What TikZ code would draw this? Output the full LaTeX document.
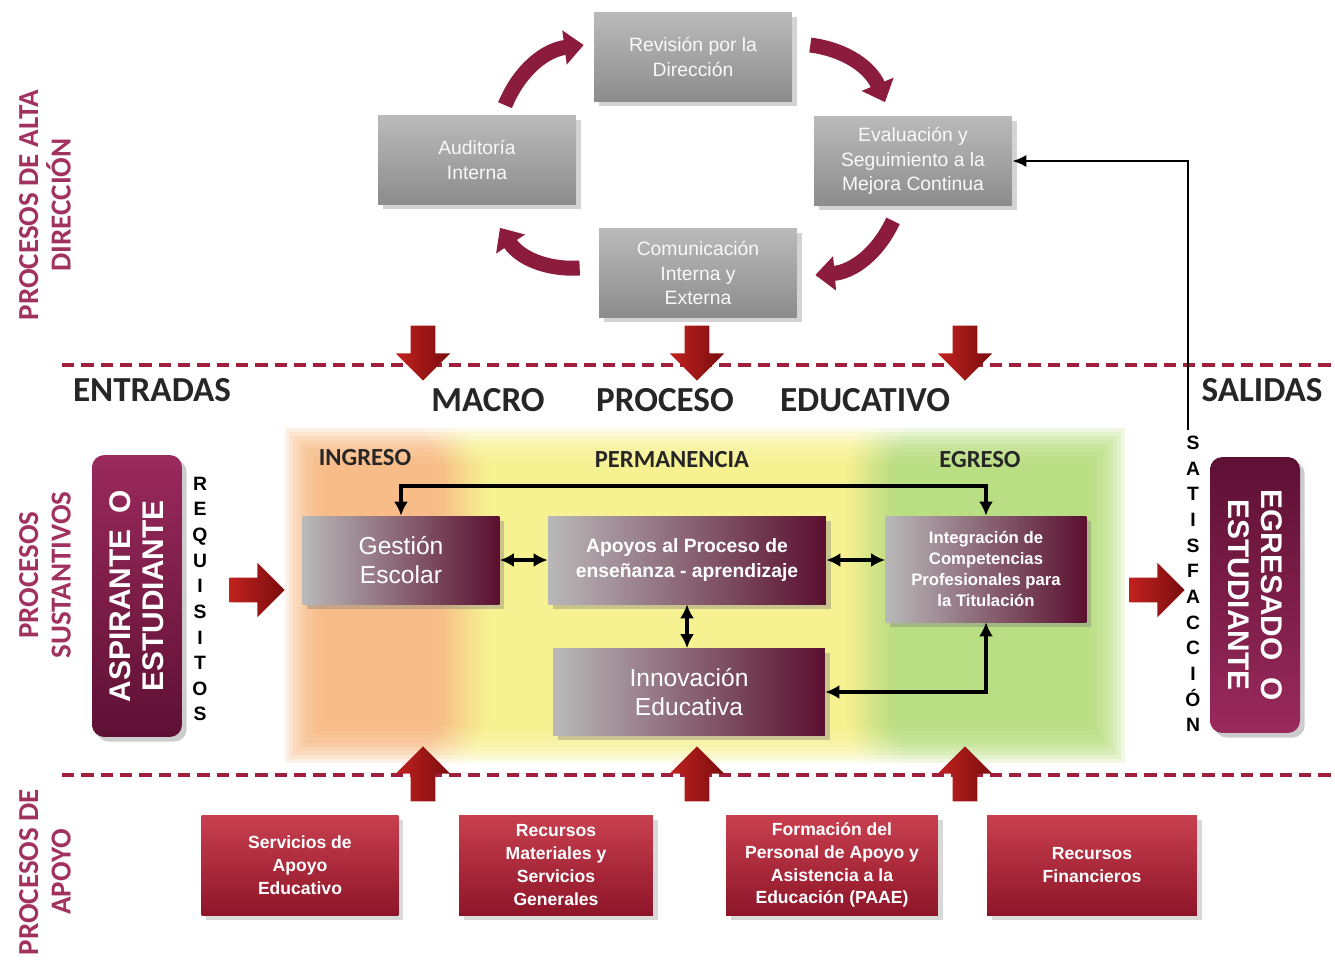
\documentclass[tikz,border=0pt]{standalone}
\usepackage{fontspec}
\setmainfont{Liberation Sans}
\newfontfamily\headfont{Carlito}
\usetikzlibrary{arrows.meta,shapes.arrows,shadows,positioning}

\definecolor{boxlight}{HTML}{BABABA}
\definecolor{boxdark}{HTML}{8C8C8C}
\definecolor{wine}{HTML}{5A0F2E}
\definecolor{cycred}{HTML}{8C1C3E}
\definecolor{sidelight}{HTML}{9A2A5C}
\definecolor{sidedark}{HTML}{5E1034}
\definecolor{blockred}{HTML}{C0221F}
\definecolor{blockdark}{HTML}{7A0C0E}
\definecolor{dashred}{HTML}{A01F3C}
\definecolor{labelpink}{HTML}{A1325F}
\definecolor{suplight}{HTML}{C8404F}
\definecolor{supdark}{HTML}{8E1529}
\definecolor{bgorange}{HTML}{F7B47A}
\definecolor{bgyellow}{HTML}{F5EF84}
\definecolor{bggreen}{HTML}{B2DA74}

\pgfdeclarehorizontalshading{bandshade}{100bp}{color(0bp)=(bgorange); color(33bp)=(bgorange);
  color(36bp)=(bgyellow); color(59bp)=(bgyellow); color(62bp)=(bggreen); color(100bp)=(bggreen)}

\begin{document}
\begin{tikzpicture}[x=0.02cm, y=-0.02cm,
  topbox/.style={top color=boxlight, bottom color=boxdark, minimum width=3.96cm, minimum height=1.78cm,
    align=center, text=white!95!gray, font=\fontsize{11}{14}\selectfont, drop shadow={opacity=0.35}},
  midbox/.style={left color=gray!55, right color=wine, text=white, align=center, drop shadow={opacity=0.4}},
  sidebox/.style={rounded corners=7pt, minimum height=1.8cm, align=center, text=white,
    font=\bfseries\fontsize{17}{19}\selectfont, drop shadow={opacity=0.4}},
  supbox/.style={top color=suplight, bottom color=supdark, minimum height=2cm, align=center, text=white,
    font=\bfseries\fontsize{10}{13}\selectfont, drop shadow={opacity=0.3}},
  heading/.style={font=\headfont\bfseries\fontsize{20}{22}\selectfont, text=black!85},
  phase/.style={font=\headfont\bfseries\fontsize{14}{16}\selectfont, text=black!85},
  sidelabel/.style={rotate=90, align=center, text=labelpink, font=\headfont\bfseries\fontsize{16.5}{18.5}\selectfont},
  letters/.style={align=center, font=\bfseries\fontsize{11}{14.6}\selectfont},
  cyc/.style={line width=8.5pt, draw=cycred, -{Triangle[length=11pt,width=19pt]}},
  redarrow/.style={single arrow, draw=none, inner xsep=0pt, inner ysep=0.24cm, minimum height=1.1cm,
    single arrow head extend=0.3cm, left color=blockred, right color=blockdark},
  link/.style={line width=2.2pt, {Latex[length=8pt,width=8pt]}-{Latex[length=8pt,width=8pt]}},
  dashline/.style={dashred, line width=2.2pt, dash pattern=on 7pt off 4pt}
]
\useasboundingbox (0,0) rectangle (1335,964);

% coloured band behind the macro process
\foreach \i in {0,...,9}
  \shade[shading=bandshade, fill opacity=0.2] (285+\i*4,428+\i*4) rectangle (1125-\i*4,762-\i*4);

% section separators
\draw[dashline] (62,365) -- (1333,365);
\draw[dashline] (62,775) -- (1333,775);

% top management cycle
\node[topbox] (rev) at (693,57) {Revisión por la\\Dirección};
\node[topbox] (aud) at (477,160) {Auditoría\\Interna};
\node[topbox] (eval) at (913,161) {Evaluación y\\Seguimiento a la\\Mejora Continua};
\node[topbox] (com) at (698,273) {Comunicación\\Interna y\\Externa};

\draw[cyc] ([xshift=0.56cm,yshift=0.2cm]aud.north) to[bend left=30] ([xshift=-0.2cm,yshift=0.24cm]rev.west);
\draw[cyc] ([xshift=0.36cm,yshift=0.24cm]rev.east) to[bend left=30] ([xshift=-0.56cm,yshift=0.28cm]eval.north);
\draw[cyc] ([xshift=-0.4cm,yshift=-0.3cm]eval.south) to[bend left=30] ([xshift=0.36cm,yshift=-0.04cm]com.east);
\draw[cyc] ([xshift=-0.38cm,yshift=0.1cm]com.west) to[bend left=30] ([xshift=0.46cm,yshift=-0.46cm]aud.south);

% block arrows
\foreach \x [count=\n] in {423,697,965} {
  \node[redarrow, rotate=-90] (dn\n) at (\x,347) {};
  \node[redarrow, rotate=90] (up\n) at (\x,780) {};
}
\node[redarrow] (rin) at (251,590) {};
\node[redarrow] (rout) at (1151,590) {};

% headings
\node[heading] (ent) at (152,390) {ENTRADAS};
\node[heading] (macro) at (488,400) {MACRO};
\node[heading] (proc) at (665,400) {PROCESO};
\node[heading] (educ) at (865,400) {EDUCATIVO};
\node[heading] (sal) at (1262,390) {SALIDAS};
\node[phase] (ing) at (365,458) {INGRESO};
\node[phase] (perm) at (672,460) {PERMANENCIA};
\node[phase] (egr) at (980,460) {EGRESO};

% macro process
\node[midbox, minimum width=3.94cm, minimum height=1.76cm, font=\fontsize{14}{17}\selectfont] (gest) at (401,560) {Gestión\\Escolar};
\node[midbox, minimum width=5.56cm, minimum height=1.76cm, font=\bfseries\fontsize{11}{14}\selectfont] (apoy) at (687,560) {Apoyos al Proceso de\\enseñanza - aprendizaje};
\node[midbox, minimum width=4.02cm, minimum height=2.12cm, font=\bfseries\fontsize{9.5}{12}\selectfont] (integ) at (986,569) {Integración de\\Competencias\\Profesionales para\\la Titulación};
\node[midbox, minimum width=5.44cm, minimum height=1.74cm, font=\fontsize{14}{17}\selectfont] (innov) at (689,692) {Innovación\\Educativa};

\draw[link] (gest.north) -- ++(0,-30) -| (integ.north);
\draw[link] (gest.east) -- (apoy.west);
\draw[link] (apoy.east) -- (apoy.east -| integ.west);
\draw[link] (apoy.south) -- (apoy.south |- innov.north);
\draw[link] (innov.east) -| (integ.south);

% inputs and outputs
\node[sidebox, rotate=90, top color=sidelight, bottom color=sidedark, minimum width=5.64cm] (asp) at (137,596) {ASPIRANTE\ \ O\\ESTUDIANTE};
\node[sidebox, rotate=-90, top color=sidedark, bottom color=sidelight, minimum width=5.52cm] (egre) at (1255,595) {EGRESADO\ \ O\\ESTUDIANTE};
\node[letters] (req) at (200,599) {R\\E\\Q\\U\\I\\S\\I\\T\\O\\S};
\node[letters] (satis) at (1193,584) {S\\A\\T\\I\\S\\F\\A\\C\\C\\I\\Ó\\N};
\draw[line width=1.4pt, -{Latex[length=8pt,width=7pt]}] ([xshift=-0.1cm]satis.north) |- (eval.east);

% side labels
\node[sidelabel] (lalta) at (45,205) {PROCESOS DE ALTA\\DIRECCIÓN};
\node[sidelabel] (lsust) at (45,575) {PROCESOS\\SUSTANTIVOS};
\node[sidelabel] (lapoyo) at (45,872) {PROCESOS DE\\APOYO};

% support processes
\node[supbox, minimum width=3.94cm] (serv) at (300,865) {Servicios de\\Apoyo\\Educativo};
\node[supbox, minimum width=3.88cm] (recm) at (556,865) {Recursos\\Materiales y\\Servicios\\Generales};
\node[supbox, minimum width=4.24cm] (form) at (832,865) {Formación del\\Personal de Apoyo y\\Asistencia a la\\Educación (PAAE)};
\node[supbox, minimum width=4.2cm] (finz) at (1092,865) {Recursos\\Financieros};
\end{tikzpicture}
\end{document}
